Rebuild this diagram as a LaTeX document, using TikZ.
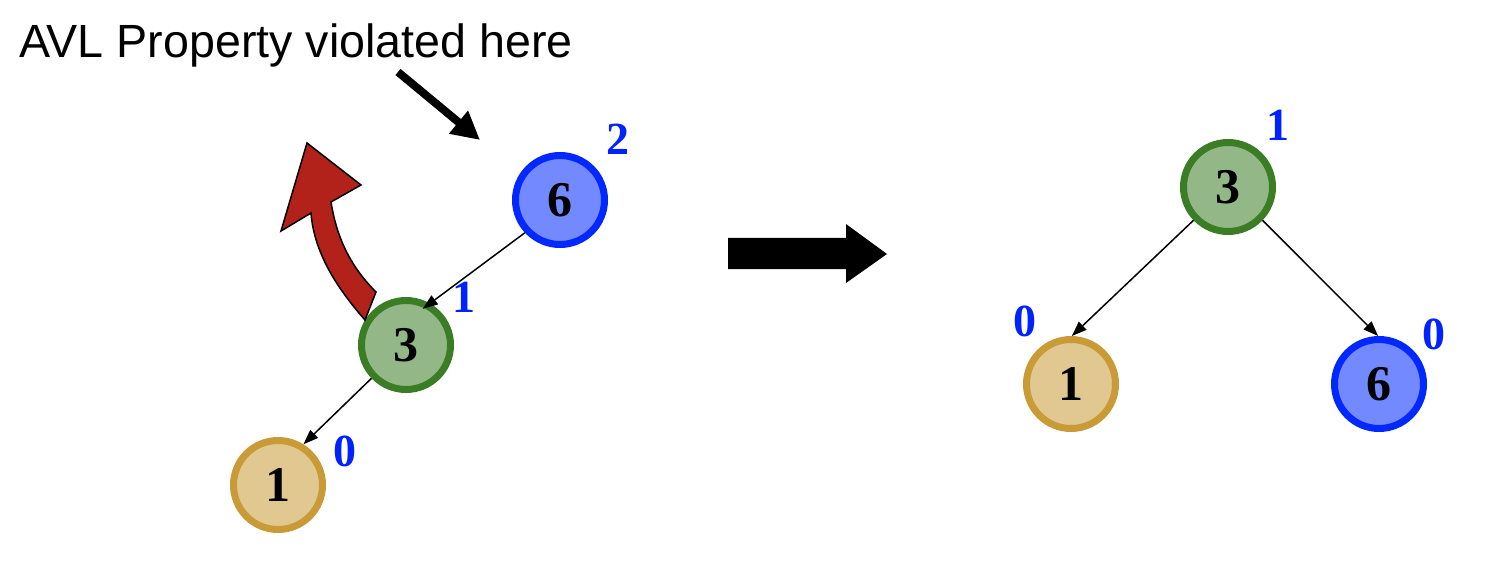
\documentclass[tikz,border=0pt]{standalone}
\usepackage{fontspec}
\setmainfont{Liberation Serif}
\newfontfamily\arialfont{Liberation Sans}
\usetikzlibrary{arrows.meta}
\definecolor{nblue}{RGB}{0,40,255}
\definecolor{ngreen}{RGB}{58,125,36}
\definecolor{ngold}{RGB}{200,155,55}
\definecolor{lblue}{RGB}{0,34,255}
\definecolor{rotred}{RGB}{178,34,26}
\tikzset{
  treenode/.style={circle, line width=7pt, minimum size=89pt, inner sep=0pt,
    font=\fontsize{50}{50}\selectfont\bfseries},
  bluenode/.style={treenode, draw=nblue, fill=nblue!55!white},
  greennode/.style={treenode, draw=ngreen, fill=ngreen!55!white},
  goldnode/.style={treenode, draw=ngold, fill=ngold!55!white},
  bal/.style={text=lblue, inner sep=0pt, font=\fontsize{46}{46}\selectfont\bfseries},
  edge/.style={line width=1.5pt, -{Triangle[length=15pt,width=11pt]}},
}
\begin{document}
\begin{tikzpicture}[x=1pt,y=-1pt]
\useasboundingbox (0,0) rectangle (1510,564);
% title
\node[anchor=base west, inner sep=0pt, font=\fontsize{46.6}{46.6}\selectfont\arialfont] (title) at (19,58) {AVL Property violated here};
\coordinate (pa) at (398,72);
\coordinate (pb) at (480,140);
\draw[line width=8pt, -{Triangle[length=28pt,width=28pt]}] (pa) -- (pb);
% left tree
\node[bluenode] (L6) at (560,200) {6};
\node[greennode] (L3) at (406,345) {3};
\node[goldnode] (L1) at (278,485) {1};
\node[bal] (b6) at (618,139) {2};
\node[bal] (b3) at (464,297) {1};
\node[bal] (b1) at (345,451) {0};
\draw[edge, shorten >=-9pt] (L6.223) -- (L3.60);
\draw[edge] (L3.224) -- (L1.58);
% rotation arrow
\draw[line width=1.5pt, fill=rotred, line join=miter]
  (307,143) -- (361,185) -- (331,202)
  .. controls (337,240) and (352,268) .. (376,292)
  -- (365,320)
  .. controls (336,287) and (314,252) .. (311,213)
  -- (281,231) -- cycle;
% big arrow
\fill (728,238) -- (846,238) -- (846,224) -- (887,254) -- (846,283) -- (846,269) -- (728,269) -- cycle;
% right tree
\node[greennode] (R3) at (1228,187) {3};
\node[goldnode] (R1) at (1071,384) {1};
\node[bluenode] (R6) at (1379,384) {6};
\node[bal] (c3) at (1278,125) {1};
\node[bal] (c1) at (1025,321) {0};
\node[bal] (c6) at (1434,334) {0};
\draw[edge] (R3.224) -- (R1.89);
\draw[edge] (R3.316) -- (R6.91);
\end{tikzpicture}
\end{document}
